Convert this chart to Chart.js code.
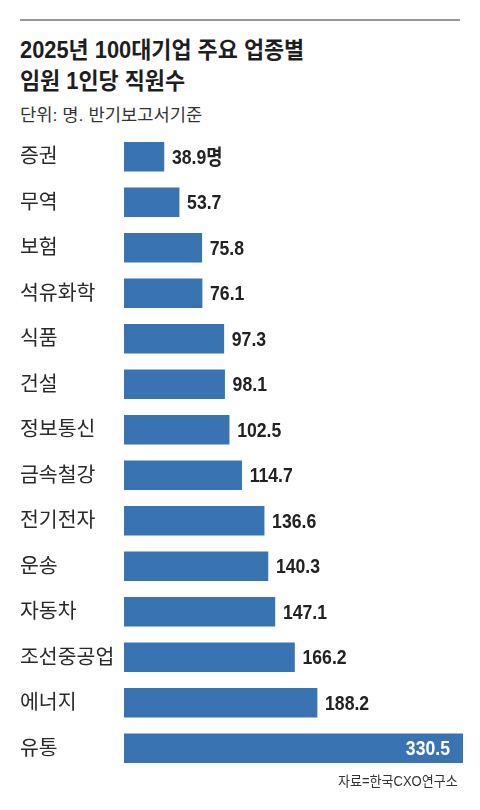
<!DOCTYPE html>
<html lang="ko">
<head>
<meta charset="UTF-8">
<title>업종별 임원 1인당 직원수</title>
<script src="https://cdn.jsdelivr.net/npm/chart.js"></script>
<style>
    body {
        margin: 0;
        background: #fff;
        font-family: "Liberation Sans", "Noto Sans CJK KR", sans-serif;
        color: #222;
    }
    .page {
        position: relative;
        width: 480px;
        height: 810px;
        overflow: hidden;
    }
    .rule {
        position: absolute;
        left: 20px;
        top: 19px;
        width: 440px;
        height: 2px;
        background: #999;
    }
    .title {
        position: absolute;
        left: 20px;
        font-size: 23px;
        font-weight: bold;
        white-space: nowrap;
        transform: scaleX(0.95);
        transform-origin: left top;
        color: #1e1e1e;
    }
    .sub {
        position: absolute;
        left: 20px;
        top: 101px;
        font-size: 17px;
        color: #333;
        white-space: nowrap;
        transform: scaleX(1.04);
        transform-origin: left top;
    }
    .source {
        position: absolute;
        right: 22px;
        top: 770px;
        font-size: 14px;
        color: #333;
        white-space: nowrap;
        transform: scaleX(0.93);
        transform-origin: right top;
    }
    #chart {
        position: absolute;
        left: 0;
        top: 130px;
    }
</style>
</head>
<body>
<div class="page">
    <div class="rule"></div>
    <div class="title" style="top:31px">2025년 100대기업 주요 업종별</div>
    <div class="title" style="top:62px">임원 1인당 직원수</div>
    <div class="sub">단위: 명. 반기보고서기준</div>
    <canvas id="chart" width="480" height="650"></canvas>
    <div class="source">자료=한국CXO연구소</div>
</div>

<script>
    // data
    const categories = ['증권', '무역', '보험', '석유화학', '식품', '건설', '정보통신',
        '금속철강', '전기전자', '운송', '자동차', '조선중공업', '에너지', '유통'];
    const values = [38.9, 53.7, 75.8, 76.1, 97.3, 98.1, 102.5,
        114.7, 136.6, 140.3, 147.1, 166.2, 188.2, 330.5];
    const unit = '명';

    // draws category names at left and value labels next to each bar
    const labelPlugin = {
        id: 'labels',
        afterDatasetsDraw(chart) {
            const ctx = chart.ctx;
            const meta = chart.getDatasetMeta(0);
            const yScale = chart.scales.y;
            ctx.save();
            ctx.textBaseline = 'middle';

            categories.forEach((name, i) => {
                const y = yScale.getPixelForValue(i);
                ctx.font = '20.5px "Liberation Sans", "Noto Sans CJK KR"';
                ctx.fillStyle = '#2a2a2a';
                ctx.textAlign = 'left';
                ctx.fillText(name, 20, y + 1);
            });

            meta.data.forEach((bar, i) => {
                let text = values[i].toFixed(1);
                if (i === 0) text += unit;
                const last = i === values.length - 1;
                ctx.save();
                ctx.font = 'bold 21px "Liberation Sans", "Noto Sans CJK KR"';
                if (last) {
                    ctx.translate(bar.x - 13, bar.y + 1);
                    ctx.textAlign = 'right';
                    ctx.fillStyle = '#fff';
                } else {
                    ctx.translate(bar.x + 8, bar.y + 1);
                    ctx.textAlign = 'left';
                    ctx.fillStyle = '#222';
                }
                ctx.scale(0.84, 1);
                ctx.fillText(text, 0, 0);
                ctx.restore();
            });
            ctx.restore();
        }
    };

    new Chart(document.getElementById('chart'), {
        type: 'bar',
        data: {
            labels: categories,
            datasets: [{
                data: values,
                backgroundColor: '#3a73b1',
                borderWidth: 0,
                barThickness: 29
            }]
        },
        options: {
            indexAxis: 'y',
            responsive: false,
            animation: false,
            layout: {
                padding: { left: 124, right: 17, top: 4, bottom: 9 }
            },
            scales: {
                x: { display: false, min: 0, max: 330.5 },
                y: { display: false }
            },
            plugins: {
                legend: { display: false },
                tooltip: { enabled: false }
            }
        },
        plugins: [labelPlugin]
    });
</script>
</body>
</html>
